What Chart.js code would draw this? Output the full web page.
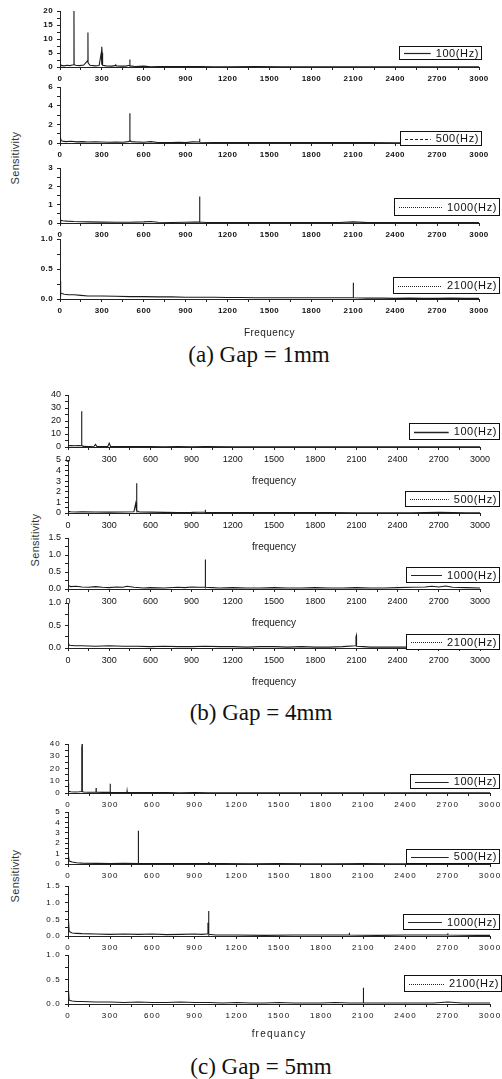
<!DOCTYPE html>
<html><head><meta charset="utf-8"><title>Sensitivity spectra</title>
<script src="https://cdn.jsdelivr.net/npm/chart.js@4.4.1/dist/chart.umd.min.js"></script>
<style>
html,body{margin:0;padding:0;background:#fff;}
#page{position:relative;width:502px;height:1079px;overflow:hidden;background:#fff;}
#page canvas{position:absolute;left:0;}
.cap{position:absolute;transform:translate(-50%,-50%);font-family:'Liberation Serif','Times New Roman',serif;font-size:23px;line-height:24px;color:#111;white-space:nowrap;}
.ylab{position:absolute;font-family:'Liberation Sans',Arial,sans-serif;font-size:11px;color:#333;white-space:nowrap;transform:translate(-50%,-50%) rotate(-90deg);letter-spacing:0.3px;}
</style></head>
<body><div id="page">
<div class="cap" style="left:259px;top:355px;">(a) Gap = 1mm</div>
<div class="cap" style="left:261px;top:713px;">(b) Gap = 4mm</div>
<div class="cap" style="left:261px;top:1067px;">(c) Gap = 5mm</div>
<div class="ylab" style="left:15px;top:158px;">Sensitivity</div>
<div class="ylab" style="left:35px;top:540px;">Sensitivity</div>
<div class="ylab" style="left:15px;top:876px;">Sensitivity</div>
</div>
<script>
// ---------- tick labels ----------
const xTickValues = [0, 300, 600, 900, 1200, 1500, 1800, 2100, 2400, 2700, 3000];
const xTickLabels = ['0', '300', '600', '900', '1200', '1500', '1800', '2100', '2400', '2700', '3000'];

const yTicksA1 = [0, 5, 10, 15, 20];      const yLabelsA1 = ['0', '5', '10', '15', '20'];
const yTicksA2 = [0, 2, 4, 6];            const yLabelsA2 = ['0', '2', '4', '6'];
const yTicksA3 = [0, 1, 2, 3];            const yLabelsA3 = ['0', '1', '2', '3'];
const yTicksA4 = [0, 0.5, 1];             const yLabelsA4 = ['0.0', '0.5', '1.0'];
const yTicksB1 = [0, 10, 20, 30, 40];     const yLabelsB1 = ['0', '10', '20', '30', '40'];
const yTicksB2 = [0, 1, 2, 3, 4, 5];      const yLabelsB2 = ['0', '1', '2', '3', '4', '5'];
const yTicksB3 = [0, 0.5, 1, 1.5];        const yLabelsB3 = ['0.0', '0.5', '1.0', '1.5'];
const yTicksB4 = [0, 0.5, 1];             const yLabelsB4 = ['0.0', '0.5', '1.0'];
const yTicksC1 = [0, 10, 20, 30, 40];     const yLabelsC1 = ['0', '10', '20', '30', '40'];
const yTicksC2 = [0, 1, 2, 3, 4, 5];      const yLabelsC2 = ['0', '1', '2', '3', '4', '5'];
const yTicksC3 = [0, 0.5, 1, 1.5];        const yLabelsC3 = ['0.0', '0.5', '1.0', '1.5'];
const yTicksC4 = [0, 0.5, 1];             const yLabelsC4 = ['0.0', '0.5', '1.0'];

const seriesNames = ['100(Hz)', '500(Hz)', '1000(Hz)', '2100(Hz)'];

// ---------- (a) Gap = 1mm ----------
const a1Freq = [0, 5, 15, 30, 50, 70, 90, 99, 100, 101, 110, 140, 170, 190, 197, 200, 201, 215, 250, 280, 296, 298, 300, 302, 305, 330, 370, 395, 400, 405, 440, 470, 499, 500, 501, 540, 600, 650, 700, 800, 900, 1000, 1100, 1200, 1400, 1600, 1800, 2000, 2200, 2400, 2600, 2800, 3000];
const a1Sens = [0.3, 0.8, 0.5, 0.4, 0.6, 0.5, 0.7, 0.8, 20, 0.9, 0.6, 0.5, 0.7, 1.8, 2.2, 12.3, 1.5, 0.6, 0.4, 0.5, 5.2, 0.8, 7.2, 5, 0.6, 0.4, 0.3, 0.5, 0.7, 0.4, 0.3, 0.3, 0.6, 2.7, 0.4, 0.2, 0.3, 0.1, 0.2, 0.15, 0.2, 0.15, 0.1, 0.1, 0.12, 0.1, 0.08, 0.1, 0.1, 0.08, 0.1, 0.08, 0.1];

const a2Freq = [0, 3, 8, 20, 40, 80, 120, 160, 200, 250, 300, 350, 400, 450, 490, 499, 500, 501, 510, 540, 600, 650, 700, 750, 800, 850, 900, 950, 999, 1000, 1001, 1100, 1200, 1300, 1400, 1500, 1600, 1800, 2000, 2100, 2200, 2400, 2600, 2800, 3000];
const a2Sens = [0.1, 0.6, 0.25, 0.2, 0.15, 0.18, 0.12, 0.15, 0.1, 0.12, 0.1, 0.08, 0.1, 0.08, 0.15, 0.2, 3.2, 0.3, 0.15, 0.12, 0.08, 0.15, 0.06, 0.05, 0.06, 0.08, 0.05, 0.12, 0.1, 0.45, 0.08, 0.06, 0.05, 0.04, 0.05, 0.04, 0.05, 0.04, 0.05, 0.06, 0.04, 0.03, 0.04, 0.03, 0.03];

const a3Freq = [0, 5, 20, 50, 100, 150, 200, 300, 400, 500, 600, 650, 700, 800, 900, 960, 999, 1000, 1001, 1050, 1100, 1200, 1300, 1400, 1500, 1600, 1700, 1800, 1900, 2000, 2100, 2200, 2300, 2400, 2500, 2600, 2700, 2800, 2900, 3000];
const a3Sens = [0.05, 0.15, 0.12, 0.1, 0.08, 0.07, 0.06, 0.05, 0.04, 0.04, 0.06, 0.08, 0.04, 0.03, 0.04, 0.05, 0.06, 1.45, 0.05, 0.03, 0.03, 0.02, 0.03, 0.02, 0.02, 0.03, 0.02, 0.02, 0.02, 0.03, 0.06, 0.02, 0.02, 0.02, 0.02, 0.02, 0.03, 0.02, 0.02, 0.02];

const a4Freq = [0, 3, 6, 15, 30, 60, 100, 150, 200, 300, 400, 500, 600, 700, 800, 900, 1000, 1100, 1200, 1300, 1400, 1500, 1600, 1700, 1800, 1900, 2000, 2099, 2100, 2101, 2200, 2300, 2400, 2500, 2600, 2700, 2800, 2900, 3000];
const a4Sens = [0.05, 0.3, 0.1, 0.09, 0.08, 0.07, 0.07, 0.06, 0.05, 0.05, 0.045, 0.04, 0.04, 0.035, 0.035, 0.03, 0.03, 0.03, 0.025, 0.025, 0.02, 0.02, 0.02, 0.02, 0.02, 0.02, 0.02, 0.02, 0.27, 0.02, 0.015, 0.015, 0.01, 0.015, 0.01, 0.01, 0.015, 0.01, 0.01];

// ---------- (b) Gap = 4mm ----------
const b1Freq = [0, 20, 50, 80, 95, 99, 100, 101, 110, 150, 190, 200, 210, 250, 290, 300, 310, 350, 400, 500, 600, 700, 800, 900, 1000, 1200, 1400, 1600, 1800, 2000, 2200, 2400, 2600, 2800, 3000];
const b1Sens = [1.0, 1.1, 1.0, 1.2, 1.0, 1.5, 27.5, 1.2, 0.5, 0.4, 0.6, 2.0, 0.5, 0.3, 0.5, 3.0, 0.4, 0.3, 0.3, 0.4, 0.3, 0.2, 0.3, 0.2, 0.3, 0.2, 0.2, 0.2, 0.2, 0.15, 0.2, 0.15, 0.2, 0.15, 0.15];

const b2Freq = [0, 3, 20, 60, 100, 200, 300, 400, 480, 493, 498, 500, 501, 520, 600, 700, 800, 900, 999, 1000, 1001, 1100, 1300, 1500, 1700, 1900, 2100, 2300, 2500, 2700, 2900, 3000];
const b2Sens = [0.1, 0.15, 0.12, 0.1, 0.12, 0.1, 0.08, 0.1, 0.12, 0.9, 0.3, 2.8, 0.2, 0.1, 0.08, 0.06, 0.05, 0.06, 0.1, 0.3, 0.05, 0.04, 0.04, 0.05, 0.04, 0.04, 0.03, 0.03, 0.03, 0.06, 0.03, 0.03];

const b3Freq = [0, 3, 20, 60, 100, 150, 200, 250, 300, 350, 400, 430, 480, 550, 600, 700, 800, 850, 900, 950, 999, 1000, 1001, 1050, 1100, 1200, 1300, 1400, 1500, 1600, 1700, 1800, 1900, 2000, 2100, 2200, 2300, 2400, 2500, 2600, 2650, 2700, 2750, 2800, 2900, 3000];
const b3Sens = [0.05, 0.1, 0.07, 0.08, 0.06, 0.05, 0.07, 0.05, 0.04, 0.06, 0.05, 0.08, 0.05, 0.03, 0.04, 0.03, 0.05, 0.04, 0.06, 0.05, 0.06, 0.87, 0.05, 0.04, 0.03, 0.04, 0.03, 0.03, 0.04, 0.03, 0.03, 0.04, 0.03, 0.03, 0.04, 0.03, 0.03, 0.04, 0.05, 0.06, 0.08, 0.06, 0.09, 0.05, 0.04, 0.03];

const b4Freq = [0, 3, 10, 50, 100, 200, 300, 400, 500, 600, 700, 800, 900, 1000, 1100, 1200, 1300, 1400, 1500, 1600, 1700, 1800, 1900, 2000, 2094, 2097, 2100, 2101, 2150, 2200, 2300, 2400, 2500, 2600, 2700, 2800, 2900, 3000];
const b4Sens = [0.05, 0.1, 0.06, 0.05, 0.05, 0.04, 0.05, 0.04, 0.04, 0.03, 0.04, 0.03, 0.03, 0.04, 0.03, 0.03, 0.02, 0.03, 0.03, 0.02, 0.03, 0.02, 0.02, 0.03, 0.05, 0.25, 0.28, 0.04, 0.03, 0.02, 0.02, 0.02, 0.02, 0.03, 0.02, 0.02, 0.02, 0.02];

// ---------- (c) Gap = 5mm ----------
const c1Freq = [0, 3, 6, 20, 50, 80, 95, 97, 99, 100, 101, 103, 110, 150, 199, 200, 201, 250, 299, 300, 301, 350, 419, 420, 421, 500, 600, 700, 800, 900, 1000, 1200, 1400, 1600, 1800, 2000, 2200, 2400, 2600, 2800, 3000];
const c1Sens = [1, 8, 1.5, 1.0, 0.8, 1.0, 1.2, 38, 2, 40, 3, 1.2, 0.8, 0.6, 0.8, 4, 0.7, 0.5, 0.6, 7.5, 0.5, 0.4, 0.5, 1.5, 0.5, 0.4, 0.3, 0.3, 0.2, 0.3, 0.2, 0.2, 0.2, 0.15, 0.2, 0.15, 0.15, 0.2, 0.15, 0.15, 0.1];

const c2Freq = [0, 2, 4, 8, 15, 30, 60, 100, 200, 300, 400, 499, 500, 501, 600, 700, 800, 900, 999, 1000, 1001, 1100, 1300, 1500, 1700, 1900, 2100, 2300, 2500, 2700, 2900, 3000];
const c2Sens = [0.5, 3.5, 0.8, 0.3, 0.25, 0.2, 0.12, 0.08, 0.06, 0.05, 0.06, 0.05, 3.2, 0.06, 0.04, 0.05, 0.04, 0.05, 0.06, 0.2, 0.04, 0.04, 0.03, 0.04, 0.03, 0.03, 0.04, 0.03, 0.03, 0.05, 0.03, 0.03];

const c3Freq = [0, 2, 4, 8, 15, 30, 60, 100, 200, 300, 400, 500, 600, 700, 800, 900, 950, 990, 995, 998, 1000, 1001, 1050, 1200, 1400, 1600, 1800, 1999, 2000, 2001, 2200, 2400, 2600, 2699, 2700, 2701, 2900, 3000];
const c3Sens = [0.2, 1.5, 0.5, 0.15, 0.12, 0.09, 0.08, 0.07, 0.06, 0.05, 0.06, 0.05, 0.06, 0.04, 0.05, 0.06, 0.05, 0.06, 0.4, 0.1, 0.75, 0.05, 0.03, 0.03, 0.02, 0.03, 0.03, 0.03, 0.1, 0.03, 0.02, 0.03, 0.03, 0.03, 0.08, 0.03, 0.02, 0.02];

const c4Freq = [0, 2, 4, 8, 15, 30, 60, 100, 200, 300, 400, 500, 600, 700, 800, 900, 1000, 1100, 1200, 1300, 1400, 1500, 1600, 1700, 1800, 1900, 2000, 2099, 2100, 2101, 2200, 2300, 2400, 2500, 2600, 2700, 2800, 2900, 3000];
const c4Sens = [0.1, 1.0, 0.3, 0.08, 0.07, 0.06, 0.05, 0.05, 0.04, 0.04, 0.03, 0.04, 0.03, 0.03, 0.04, 0.03, 0.03, 0.02, 0.03, 0.02, 0.02, 0.03, 0.02, 0.02, 0.02, 0.03, 0.02, 0.02, 0.33, 0.02, 0.02, 0.02, 0.02, 0.02, 0.02, 0.04, 0.02, 0.02, 0.02];

// ---------- panel styles ----------
const panelStyle = {
  a: { font: { family: "'Liberation Sans', Arial, sans-serif", size: 8, weight: 'bold' }, spacing: '0.4px', xTitlePad: 0, xlabelFont: 10 },
  b: { font: { family: "'Liberation Sans', Arial, sans-serif", size: 9, weight: 'normal' }, spacing: '0px', xTitlePad: 0, xlabelFont: 10 },
  c: { font: { family: "'Liberation Sans', Arial, sans-serif", size: 8, weight: 'normal' }, spacing: '1.2px', xTitlePad: 4, xlabelFont: 10 }
};

// layout (page pixels) of each subplot
const subplots = [
  { p: 'a', f: a1Freq, s: a1Sens, name: seriesNames[0], yt: yTicksA1, yl: yLabelsA1, left: 60, right: 479, top: 11,  bottom: 67,  leg: [399, 46, 482, 60],  dash: [],     lw: 1.2, xlabel: '' },
  { p: 'a', f: a2Freq, s: a2Sens, name: seriesNames[1], yt: yTicksA2, yl: yLabelsA2, left: 60, right: 479, top: 87,  bottom: 143, leg: [400, 131, 482, 146], dash: [3, 2], lw: 1, xlabel: '' },
  { p: 'a', f: a3Freq, s: a3Sens, name: seriesNames[2], yt: yTicksA3, yl: yLabelsA3, left: 60, right: 479, top: 168, bottom: 223, leg: [394, 198, 500, 216], dash: [1, 1], lw: 1, xlabel: '' },
  { p: 'a', f: a4Freq, s: a4Sens, name: seriesNames[3], yt: yTicksA4, yl: yLabelsA4, left: 60, right: 479, top: 239, bottom: 299, leg: [393, 277, 500, 294], dash: [1, 1], lw: 1, xlabel: 'Frequency' },
  { p: 'b', f: b1Freq, s: b1Sens, name: seriesNames[0], yt: yTicksB1, yl: yLabelsB1, left: 68, right: 480, top: 395, bottom: 447, leg: [409, 423, 500, 440], dash: [],     lw: 1.5, xlabel: 'frequency' },
  { p: 'b', f: b2Freq, s: b2Sens, name: seriesNames[1], yt: yTicksB2, yl: yLabelsB2, left: 68, right: 480, top: 460, bottom: 513, leg: [405, 491, 500, 507], dash: [1, 1], lw: 1, xlabel: 'frequency' },
  { p: 'b', f: b3Freq, s: b3Sens, name: seriesNames[2], yt: yTicksB3, yl: yLabelsB3, left: 68, right: 480, top: 538, bottom: 589, leg: [406, 567, 500, 583], dash: [],     lw: 1, xlabel: 'frequency' },
  { p: 'b', f: b4Freq, s: b4Sens, name: seriesNames[3], yt: yTicksB4, yl: yLabelsB4, left: 68, right: 480, top: 603, bottom: 648, leg: [406, 634, 500, 650], dash: [1, 1], lw: 1, xlabel: 'frequency' },
  { p: 'c', f: c1Freq, s: c1Sens, name: seriesNames[0], yt: yTicksC1, yl: yLabelsC1, left: 68, right: 490, top: 744, bottom: 793, leg: [410, 774, 500, 789], dash: [],     lw: 1, xlabel: '' },
  { p: 'c', f: c2Freq, s: c2Sens, name: seriesNames[1], yt: yTicksC2, yl: yLabelsC2, left: 68, right: 490, top: 812, bottom: 864, leg: [406, 849, 500, 864], dash: [],     lw: 1, xlabel: '' },
  { p: 'c', f: c3Freq, s: c3Sens, name: seriesNames[2], yt: yTicksC3, yl: yLabelsC3, left: 68, right: 490, top: 886, bottom: 936, leg: [403, 914, 500, 930], dash: [],     lw: 1, xlabel: '' },
  { p: 'c', f: c4Freq, s: c4Sens, name: seriesNames[3], yt: yTicksC4, yl: yLabelsC4, left: 68, right: 490, top: 955, bottom: 1004, leg: [404, 975, 502, 992], dash: [1, 1], lw: 1, xlabel: 'frequancy' }
];

function withMinor(majors) {
  const out = [];
  for (let i = 0; i < majors.length; i++) {
    out.push(majors[i]);
    if (i < majors.length - 1) out.push((majors[i] + majors[i + 1]) / 2);
  }
  return out;
}
function labelFor(v, vals, labels) {
  const i = vals.findIndex(t => Math.abs(t - v) < 1e-9);
  return i >= 0 ? labels[i] : '';
}

const boxLegend = {
  id: 'boxLegend',
  beforeDraw(chart, args, opts) { chart.ctx.letterSpacing = opts.spacing || '0px'; },
  afterDraw(chart, args, opts) {
    const ctx = chart.ctx;
    const [x1, y1g, x2, y2g] = opts.box;
    const y1 = y1g - opts.offsetY, y2 = y2g - opts.offsetY;
    ctx.save();
    ctx.letterSpacing = '0.6px';
    ctx.fillStyle = '#fff';
    ctx.fillRect(x1, y1, x2 - x1, y2 - y1);
    ctx.strokeStyle = '#111';
    ctx.lineWidth = 1;
    ctx.setLineDash([]);
    ctx.strokeRect(x1 + 0.5, y1 + 0.5, x2 - x1 - 1, y2 - y1 - 1);
    const label = chart.data.datasets[0].label;
    ctx.font = "11px 'Liberation Sans', Arial, sans-serif";
    ctx.fillStyle = '#111';
    ctx.textAlign = 'right';
    ctx.textBaseline = 'middle';
    const ym = (y1 + y2) / 2;
    ctx.fillText(label, x2 - 3, ym + 0.5);
    const tw = ctx.measureText(label).width;
    ctx.beginPath();
    ctx.setLineDash(opts.dash);
    ctx.strokeStyle = '#222';
    ctx.lineWidth = opts.lw;
    ctx.moveTo(x1 + 5, Math.round(ym) + 0.5);
    ctx.lineTo(x2 - 5 - tw - 3, Math.round(ym) + 0.5);
    ctx.stroke();
    ctx.restore();
  }
};

const page = document.getElementById('page');
const PAD_TOP = 10, BELOW = 40;
const xAll = withMinor(xTickValues);

subplots.forEach(sp => {
  const st = panelStyle[sp.p];
  const h = (sp.bottom - sp.top) + PAD_TOP + BELOW;
  const canvas = document.createElement('canvas');
  canvas.width = 502; canvas.height = h;
  canvas.style.width = '502px'; canvas.style.height = h + 'px';
  canvas.style.top = (sp.top - PAD_TOP) + 'px';
  page.appendChild(canvas);
  const pts = sp.f.map((x, i) => ({ x: x, y: sp.s[i] }));
  const yAll = withMinor(sp.yt);
  new Chart(canvas, {
    type: 'line',
    data: { datasets: [{ label: sp.name, data: pts, borderColor: '#1a1a1a', borderWidth: 1.1, pointRadius: 0, tension: 0, fill: false }] },
    plugins: [boxLegend],
    options: {
      responsive: false, animation: false, devicePixelRatio: 1,
      events: [],
      layout: { padding: { left: 0, right: 502 - sp.right, top: PAD_TOP, bottom: 0 } },
      plugins: {
        legend: { display: false }, tooltip: { enabled: false },
        boxLegend: { box: sp.leg, offsetY: sp.top - PAD_TOP, dash: sp.dash, lw: sp.lw, spacing: st.spacing }
      },
      scales: {
        x: {
          type: 'linear', min: 0, max: 3000,
          afterBuildTicks: s => { s.ticks = xAll.map(v => ({ value: v })); },
          afterFit: s => { s.height = BELOW; s.paddingLeft = 0; s.paddingRight = 0; },
          ticks: { autoSkip: false, maxRotation: 0, minRotation: 0, padding: 4, color: '#111', font: st.font,
                   callback: v => labelFor(v, xTickValues, xTickLabels) },
          grid: { display: true, drawOnChartArea: false, drawTicks: true, tickLength: 3, color: '#222', lineWidth: 1 },
          border: { display: true, color: '#222', width: 1 },
          title: { display: !!sp.xlabel, text: sp.xlabel, color: '#222', padding: { top: 0, bottom: st.xTitlePad },
                   font: { family: "'Liberation Sans', Arial, sans-serif", size: st.xlabelFont } }
        },
        y: {
          type: 'linear', min: 0, max: sp.yt[sp.yt.length - 1],
          afterBuildTicks: s => { s.ticks = yAll.map(v => ({ value: v })); },
          afterFit: s => { s.width = sp.left; s.paddingTop = 0; s.paddingBottom = 0; },
          ticks: { autoSkip: false, padding: 4, color: '#111', font: st.font,
                   callback: v => labelFor(v, sp.yt, sp.yl) },
          grid: { display: true, drawOnChartArea: false, drawTicks: true, tickLength: 3, color: '#222', lineWidth: 1 },
          border: { display: true, color: '#222', width: 1 }
        }
      }
    }
  });
});
</script>
</body></html>
